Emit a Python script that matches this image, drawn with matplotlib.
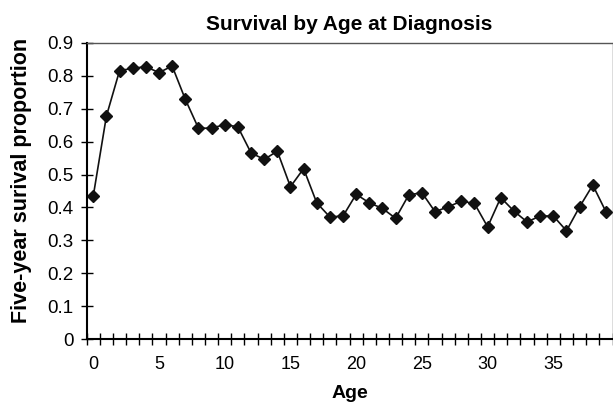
import numpy as np
import matplotlib
matplotlib.use("Agg")
import matplotlib.pyplot as plt
import matplotlib.ticker as ticker

plt.rcParams["font.family"] = ["Liberation Sans", "DejaVu Sans"]

# ages 0..39 and five-year survival proportion
ages = list(range(40))
survival = [
    0.435, 0.678, 0.816, 0.823, 0.828, 0.810, 0.830, 0.729, 0.641, 0.641,
    0.652, 0.645, 0.566, 0.546, 0.571, 0.463, 0.518, 0.414, 0.371, 0.374,
    0.440, 0.414, 0.397, 0.367, 0.438, 0.445, 0.387, 0.402, 0.419, 0.412,
    0.341, 0.430, 0.389, 0.356, 0.374, 0.374, 0.329, 0.402, 0.468, 0.387,
]
age_labels = [0, 5, 10, 15, 20, 25, 30, 35]
y_ticks = [0, 0.1, 0.2, 0.3, 0.4, 0.5, 0.6, 0.7, 0.8, 0.9]

W, H = 613, 404
fig = plt.figure(figsize=(W / 100, H / 100), dpi=100)
left, right, top, bottom = 86.7, 612.5, 43, 339
ax = fig.add_axes([left / W, 1 - bottom / H, (right - left) / W, (bottom - top) / H])

ax.plot(ages, survival, color="#111111", linewidth=1.2, marker="D",
        markersize=6.2, markerfacecolor="#111111", markeredgecolor="#111111")

ax.set_xlim(-0.5, len(ages) - 0.5)
ax.set_ylim(0, 0.9)

# excel style category axis: ticks between categories, labels on categories
ax.xaxis.set_major_locator(ticker.FixedLocator(np.arange(-0.5, len(ages), 1.0)))
ax.xaxis.set_major_formatter(ticker.NullFormatter())
ax.xaxis.set_minor_locator(ticker.FixedLocator(age_labels))
ax.xaxis.set_minor_formatter(ticker.FixedFormatter([str(a) for a in age_labels]))
ax.tick_params(axis="x", which="major", direction="inout", length=8.6, width=1.0, color="black")
ax.tick_params(axis="x", which="minor", length=0, pad=12, labelsize=13)

ax.set_yticks(y_ticks)
ax.set_yticklabels(["0"] + [f"{v:.1f}" for v in y_ticks[1:]])
ax.tick_params(axis="y", direction="inout", length=8.6, width=1.0, color="black",
               pad=5, labelsize=13.5)

for side in ["left", "bottom"]:
    ax.spines[side].set_color("black")
    ax.spines[side].set_linewidth(1.5)
for side in ["top", "right"]:
    ax.spines[side].set_color("#555555")
    ax.spines[side].set_linewidth(1.0)

ax.set_title("Survival by Age at Diagnosis", fontsize=15, fontweight="bold", pad=9.4)
ax.set_xlabel("Age", fontsize=14, fontweight="bold")
ax.xaxis.set_label_coords(0.5, -0.155)
ax.set_ylabel("Five-year surival proportion", fontsize=15.5, fontweight="bold")
ax.yaxis.set_label_coords(-0.104, 0.534)

fig.savefig("out.png", dpi=100)
